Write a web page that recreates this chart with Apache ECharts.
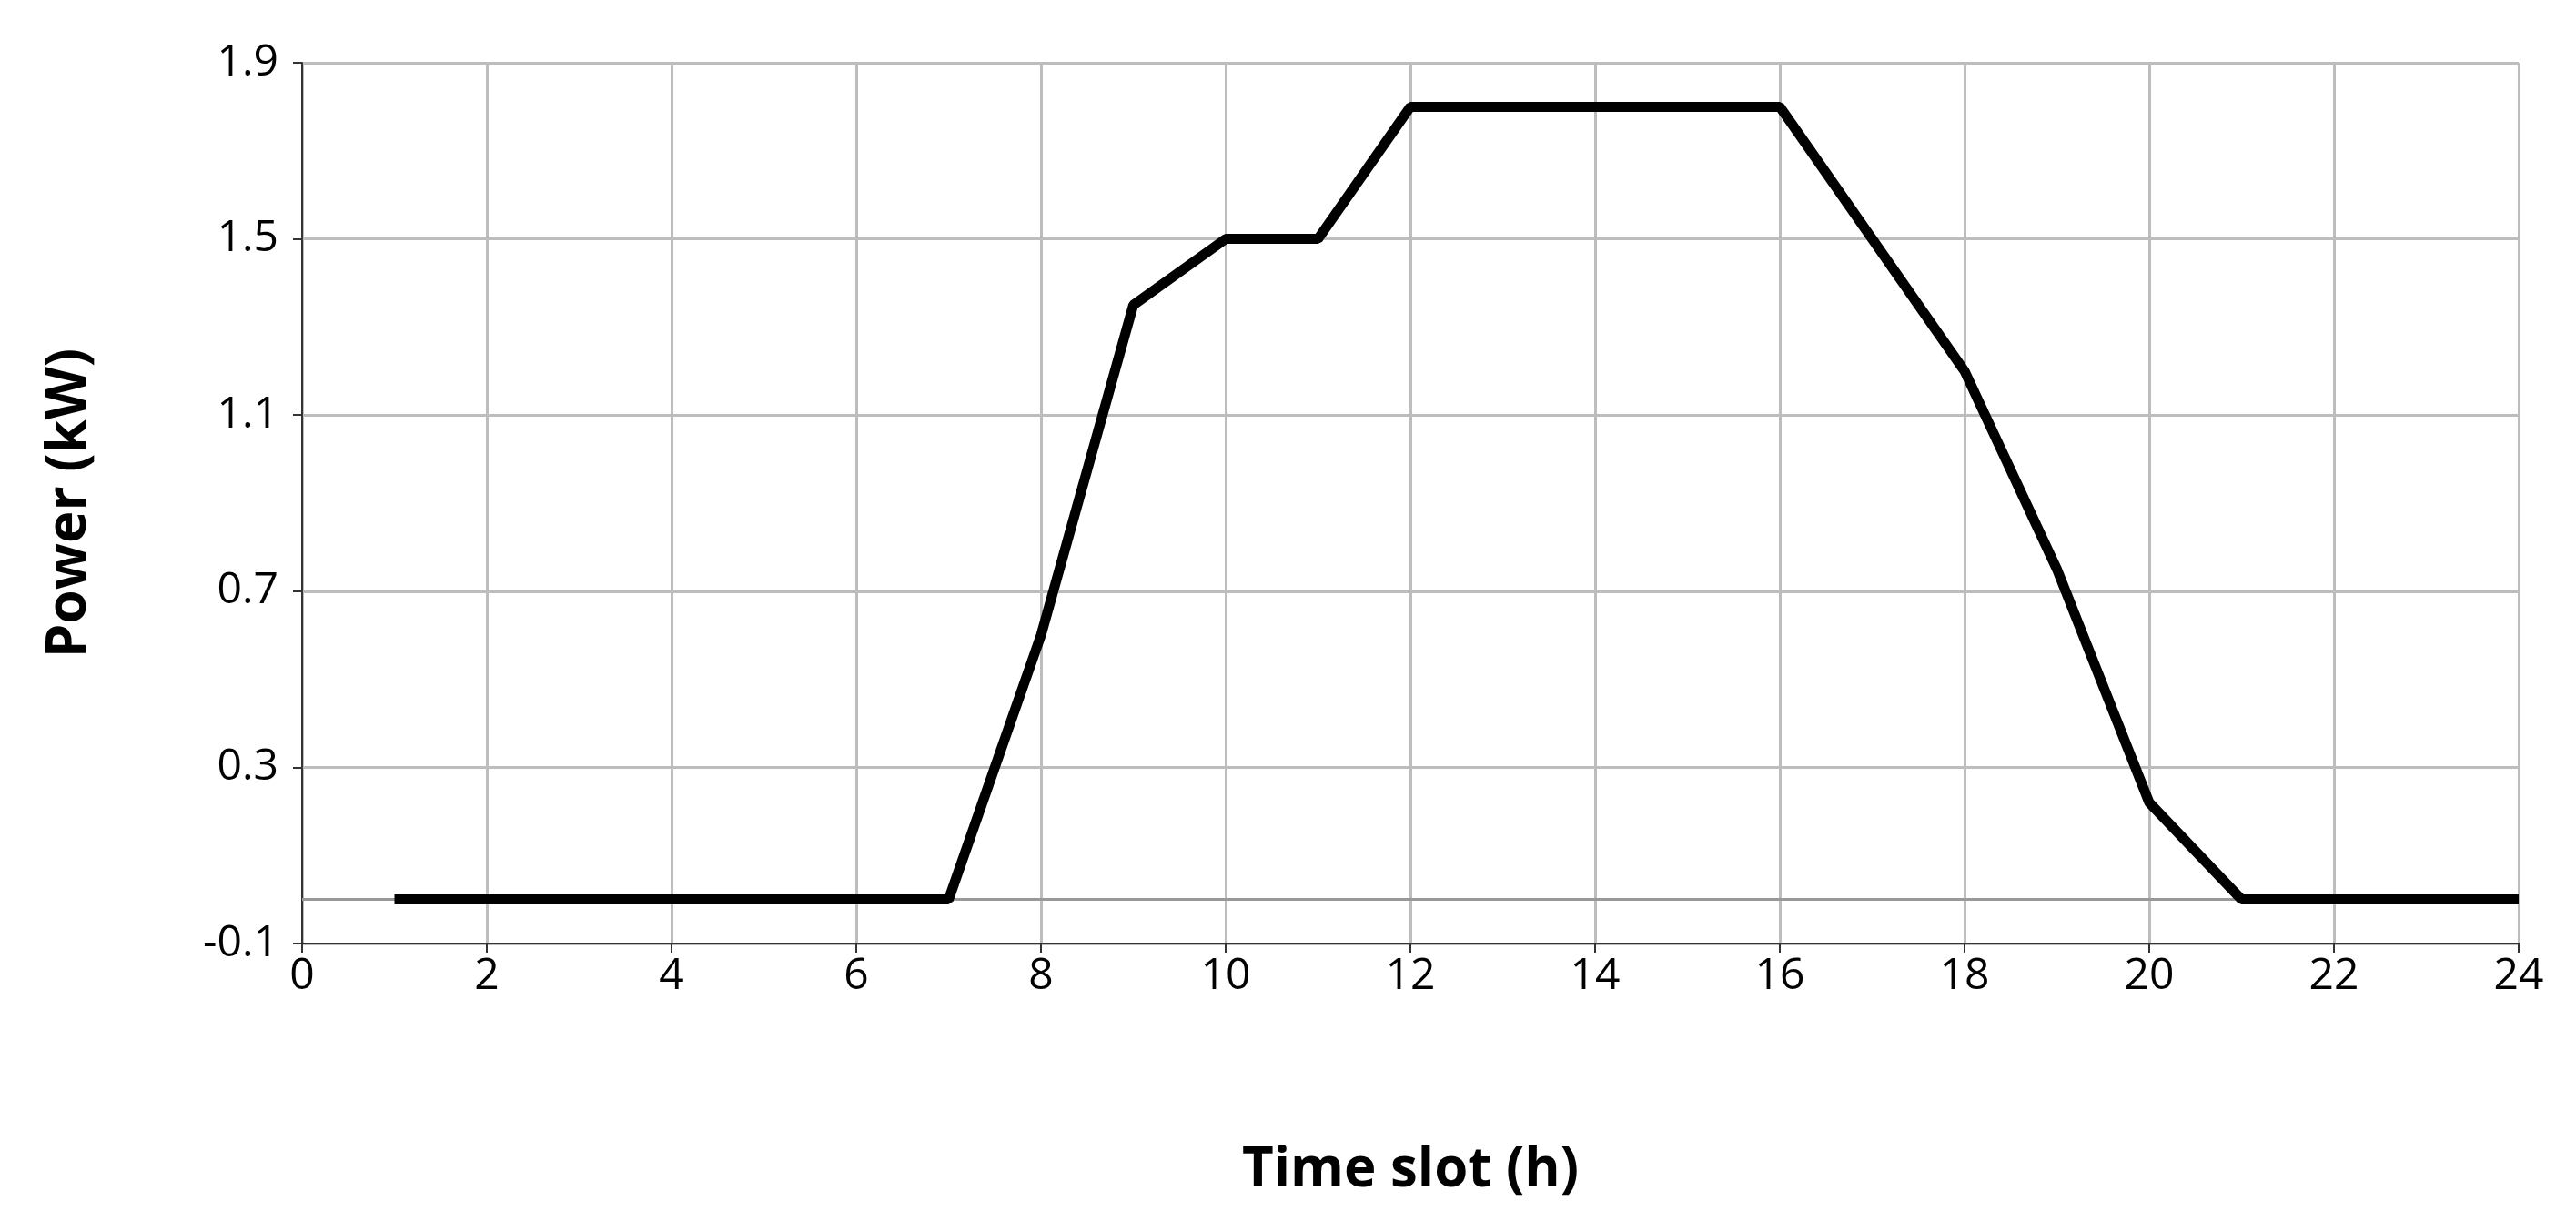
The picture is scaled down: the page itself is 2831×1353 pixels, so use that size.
<!DOCTYPE html>
<html lang="en" style="height: 100%">
<head>
  <meta charset="utf-8">
</head>
<body style="height: 100%; margin: 0; background: #fff">
  <div id="container" style="height: 100%"></div>
  <script type="text/javascript" src="https://cdn.jsdelivr.net/npm/echarts@6/dist/echarts.min.js"></script>
  <script type="text/javascript">
    var hours = [1, 2, 3, 4, 5, 6, 7, 8, 9, 10, 11, 12, 13, 14, 15, 16, 17, 18, 19, 20, 21, 22, 23, 24];
    var power = [0, 0, 0, 0, 0, 0, 0, 0.6, 1.35, 1.5, 1.5, 1.8, 1.8, 1.8, 1.8, 1.8, 1.5, 1.2, 0.75, 0.22, 0, 0, 0, 0];

    var chart = echarts.init(document.getElementById('container'));
    var font = 'Open Sans, Noto Sans, sans-serif';
    var option = {
      animation: false,
      grid: { left: 332, right: 63, top: 69, bottom: 316 },
      xAxis: {
        type: 'value', min: 0, max: 24, interval: 2,
        name: 'Time slot (h)', nameLocation: 'middle', nameGap: 220,
        nameTextStyle: { fontSize: 60, fontWeight: 'bold', color: '#000', fontFamily: font },
        axisLine: { show: true, onZero: false, lineStyle: { color: '#333', width: 2 } },
        axisTick: { show: true, length: 10, lineStyle: { color: '#333', width: 2 } },
        axisLabel: { fontSize: 48, color: '#000', margin: 12, fontFamily: font },
        splitLine: { show: true, lineStyle: { color: '#bdbdbd', width: 3 } }
      },
      yAxis: {
        type: 'value', min: -0.1, max: 1.9, interval: 0.4,
        name: 'Power (kW)', nameLocation: 'middle', nameGap: 225,
        nameTextStyle: { fontSize: 60, fontWeight: 'bold', color: '#000', fontFamily: font },
        axisLine: { show: true, lineStyle: { color: '#333', width: 2 } },
        axisTick: { show: true, length: 10, lineStyle: { color: '#333', width: 2 } },
        axisLabel: { fontSize: 48, color: '#000', margin: 26, fontFamily: font,
          formatter: function (v) { return v.toFixed(1); } },
        splitLine: { show: true, lineStyle: { color: '#bdbdbd', width: 3 } }
      },
      series: [{
        type: 'line',
        z: 1,
        data: [],
        markLine: {
          silent: true, symbol: 'none', label: { show: false },
          lineStyle: { color: '#999', width: 3, type: 'solid' },
          data: [{ yAxis: 0 }]
        }
      }, {
        type: 'line',
        z: 5,
        data: hours.map(function (h, i) { return [h, power[i]]; }),
        symbol: 'none',
        lineStyle: { color: '#000', width: 11 }
      }]
    };
    chart.setOption(option);
    window.addEventListener('resize', chart.resize);
  </script>
</body>
</html>
